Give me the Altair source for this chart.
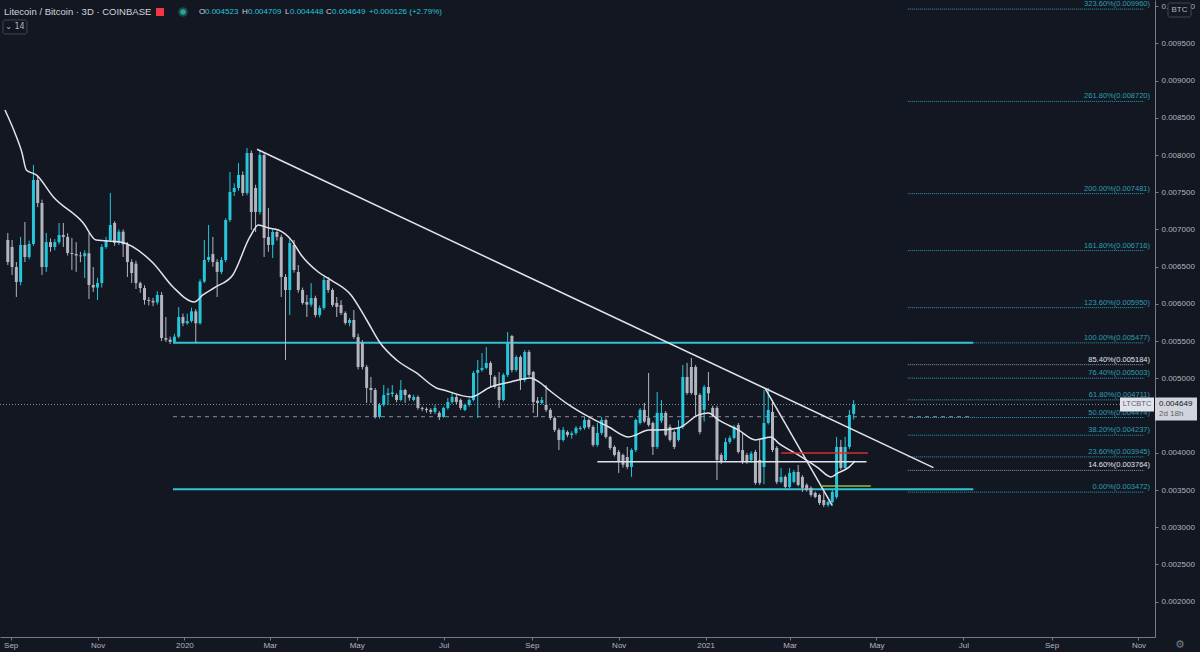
import altair as alt
import numpy as np
import pandas as pd

# ---------------- colours / fonts ----------------
BG = "#131722"
UP = "#26c6da"
DOWN = "#b2b5be"
AXIS = "#787b86"
TXT = "#b2b5be"
WHITE = "#e0e3eb"
CYAN = "#2ec5d6"
FIB = "#2a9fb1"
FONT = "Liberation Sans"

# ---------------- candles (3D bars, price x 1e6 BTC) ----------------
BAR_START = "2019-08-30"
OPEN_E6 = [6858,6765,6496,6294,6792,6630,6805,7664,7355,6496,
           6830,6765,6830,6925,6900,6684,6670,6650,6640,6680,
           6254,6220,6280,6765,6858,7087,6820,6970,6800,6563,
           6540,6280,6213,6053,6040,6020,6120,5542,5520,5490,
           5560,5824,5740,5770,5900,5740,6300,6590,6670,6563,
           6430,6590,7127,7503,7557,7732,7490,8027,7557,7235,
           8000,6899,6792,6966,6899,6362,6187,6792,6429,6187,
           6026,5990,6080,5851,5946,6321,6187,6013,5986,5878,
           5744,5784,5556,5475,5153,4871,4844,4482,4643,4777,
           4790,4777,4710,4844,4777,4710,4750,4603,4590,4576,
           4549,4536,4482,4603,4683,4750,4710,4576,4643,4710,
           5073,5113,5140,5207,5019,4884,4710,5046,5570,5113,
           5287,4978,5354,5086,4700,4670,4643,4576,4468,4307,
           4173,4280,4240,4267,4320,4334,4441,4347,4106,4267,
           4441,4213,4079,4012,3971,3944,3810,4038,4401,4576,
           4470,4401,4079,4430,4536,4347,4280,4173,4347,5019,
           5153,5153,4777,4576,4884,4603,4603,3971,3904,4146,
           4200,4374,4038,3971,3900,4012,3904,3810,4401,4549,
           4066,3609,3676,3542,3609,3743,3676,3569,3529,3461,
           3434,3367,3300,3340,3407,4079,3797,4079,4523]
HIGH_E6 = [6953,6858,6563,6900,7100,6850,7866,7720,7400,6953,
           6880,6870,7087,7087,6950,6885,6830,6700,6720,6953,
           6496,6350,6800,6900,7490,7110,7000,7000,6830,6600,
           6580,6300,6250,6090,6080,6170,6160,5824,5560,5600,
           5958,5870,5870,5950,5930,6330,6858,7060,6900,6600,
           6630,7150,7772,7620,7893,7780,8094,8060,7600,8060,
           8030,7289,7000,6990,6930,6400,6880,6858,6523,6220,
           6120,6281,6110,5980,6362,6362,6210,6093,6050,5900,
           5810,5918,5600,5515,5180,5019,4870,4670,4911,4871,
           4911,4800,4978,4860,4790,4780,4770,4620,4610,4600,
           4640,4560,4620,4737,4817,4780,4730,4660,4730,5100,
           5247,5340,5420,5230,5040,5086,5070,5623,5583,5310,
           5310,5380,5380,5100,4750,4750,4911,4600,4490,4330,
           4347,4300,4290,4360,4360,4482,4460,4370,4401,4482,
           4460,4230,4100,4040,3990,4079,4060,4460,4600,4670,
           5073,4420,4817,4710,4560,4380,4300,4441,5180,5207,
           5274,5180,4800,4910,5086,4630,4630,4000,4200,4230,
           4374,4400,4267,4000,4020,4040,4173,4844,4871,4710,
           4090,3797,3700,3797,3770,3837,3700,3590,3550,3480,
           3450,3475,3360,3500,4213,4173,4213,4576,4709]
LOW_E6 = [6523,6389,6093,6250,6563,6600,6780,7300,6389,6430,
          6700,6720,6800,6765,6650,6456,6430,6560,6348,6066,
          6160,6053,6220,6740,6830,6780,6790,6630,6361,6280,
          6200,6150,5990,5980,5970,5990,5500,5490,5460,5470,
          5540,5700,5720,5750,5475,5720,6280,6560,6500,6093,
          6400,6560,7100,7450,7520,7450,7460,6993,6966,7200,
          6630,6700,6617,6850,6093,5247,5851,6420,6150,5990,
          5824,5960,5820,5820,5920,6150,5960,5824,5850,5720,
          5700,5530,5120,5120,4670,4670,4460,4460,4620,4643,
          4750,4680,4690,4670,4700,4690,4580,4560,4540,4520,
          4520,4441,4470,4580,4660,4650,4576,4560,4620,4690,
          4468,5090,5120,4884,4860,4603,4690,5020,5080,5090,
          4844,4950,5020,4536,4482,4650,4550,4440,4280,4038,
          4150,4210,4190,4240,4300,4310,4320,4080,4080,4240,
          4190,4040,3950,3730,3800,3780,3676,4010,4380,4400,
          4350,3971,4050,4400,4220,4150,4050,4150,4320,4780,
          4780,4482,4250,4420,4700,4480,3635,3850,3880,4120,
          4180,3990,3850,3850,3870,3570,3570,3580,4380,4010,
          3580,3590,3520,3520,3590,3550,3475,3480,3410,3390,
          3300,3270,3273,3320,3380,3770,3770,4050,4448]
CLOSE_E6 = [6563,6496,6294,6792,6630,6805,7664,7355,6496,6830,
            6765,6830,6925,6900,6684,6670,6650,6640,6680,6254,
            6220,6280,6765,6858,7060,6820,6970,6800,6563,6415,
            6280,6213,6053,6040,6020,6120,5542,5520,5490,5560,
            5824,5740,5770,5900,5740,6300,6590,6630,6563,6430,
            6590,7127,7503,7557,7732,7490,8027,7235,7235,8000,
            6886,6792,6966,6900,6362,6187,6819,6456,6187,6013,
            5990,6080,5851,5946,6321,6187,5986,5959,5878,5744,
            5784,5556,5153,5153,4871,4844,4482,4643,4777,4800,
            4810,4710,4844,4777,4740,4750,4603,4590,4576,4549,
            4603,4482,4603,4683,4750,4683,4603,4643,4710,5073,
            5113,5140,5207,5046,4884,4710,5046,5489,5113,5287,
            4978,5354,5046,4683,4670,4710,4576,4468,4307,4173,
            4307,4240,4260,4334,4334,4441,4347,4106,4267,4441,
            4213,4066,3971,3877,3840,3810,4038,4441,4576,4420,
            4374,4079,4536,4536,4240,4173,4079,4347,5019,4804,
            4804,4777,4280,4884,4800,4509,3904,3877,4146,4200,
            4347,4012,3877,3877,3990,3596,3596,4401,4576,4038,
            3609,3676,3542,3730,3743,3569,3529,3501,3434,3407,
            3327,3300,3340,3475,4079,3797,4079,4509,4649]

# ---------------- moving average ----------------
MA_DATES = ["2019-08-28","2019-09-04","2019-09-09","2019-09-12","2019-09-19","2019-10-01",
            "2019-10-22","2019-10-31","2019-11-17","2019-12-10","2019-12-24","2020-01-08",
            "2020-01-14","2020-01-23","2020-02-04","2020-02-16","2020-02-22","2020-02-29",
            "2020-03-07","2020-03-16","2020-03-23","2020-04-04","2020-04-13","2020-04-27",
            "2020-05-08","2020-05-17","2020-05-29","2020-06-12","2020-06-26","2020-07-01",
            "2020-07-20","2020-08-03","2020-08-17","2020-08-31","2020-09-06","2020-09-13",
            "2020-09-27","2020-10-11","2020-10-25","2020-11-08","2020-11-13","2020-11-22",
            "2020-11-29","2020-12-13","2020-12-27","2021-01-03","2021-01-10","2021-01-24",
            "2021-02-05","2021-02-12","2021-02-16","2021-02-21","2021-03-07","2021-03-21",
            "2021-03-30","2021-04-04","2021-04-11","2021-04-16"]
MA_E6 = [8605,8296,8027,7799,7732,7436,7087,6858,6832,6550,6228,6026,6120,6228,6389,6899,
         7060,7020,6993,6860,6657,6429,6321,6120,5784,5489,5247,5073,4871,4844,4750,4884,
         4952,5005,4952,4844,4643,4482,4347,4213,4240,4307,4307,4334,4509,4536,4441,4307,
         4173,4200,4213,4133,3971,3797,3676,3730,3797,3891]

# ---------------- fibonacci extension ----------------
FIB_LABELS = ["323.60%(0.009960)", "261.80%(0.008720)", "200.00%(0.007481)",
              "161.80%(0.006716)", "123.60%(0.005950)", "100.00%(0.005477)",
              "85.40%(0.005184)", "76.40%(0.005003)", "61.80%(0.004711)",
              "50.00%(0.004474)", "38.20%(0.004237)", "23.60%(0.003945)",
              "14.60%(0.003764)", "0.00%(0.003472)"]
FIB_PRICES = [0.009960, 0.008720, 0.007481, 0.006716, 0.005950, 0.005477, 0.005184,
              0.005003, 0.004711, 0.004474, 0.004237, 0.003945, 0.003764, 0.003472]
FIB_HIGHLIGHT = ["85.40%(0.005184)", "14.60%(0.003764)"]
FIB_START, FIB_END = "2021-05-23", "2021-11-05"

# ---------------- drawings ----------------
RANGE_START, RANGE_END = "2019-12-24", "2021-07-08"
RANGE_PRICES = [0.005477, 0.003510]
MID_DASHED = 0.004485
LAST_PRICE = 0.004649
TREND_X1 = ["2020-02-21", "2021-02-12"]
TREND_Y1 = [0.008077, 0.004858]
TREND_X2 = ["2021-06-10", "2021-03-31"]
TREND_Y2 = [0.003801, 0.003290]
LEVEL_X1 = ["2020-10-17", "2021-02-23", "2021-03-23"]
LEVEL_X2 = ["2021-04-24", "2021-04-25", "2021-04-27"]
LEVEL_Y = [0.003881, 0.003998, 0.003555]
LEVEL_COLORS = [WHITE, "#d32f2f", "#8bc34a"]

Y_TICKS = [0.0020, 0.0025, 0.0030, 0.0035, 0.0040, 0.0050, 0.0055, 0.0060,
           0.0065, 0.0070, 0.0075, 0.0080, 0.0085, 0.0090, 0.0095, 0.0100]
X_TICKS = ["2019-09-01", "2019-11-01", "2020-01-01", "2020-03-01", "2020-05-01",
           "2020-07-01", "2020-09-01", "2020-11-01", "2021-01-01", "2021-03-01",
           "2021-05-01", "2021-07-01", "2021-09-01", "2021-11-01"]

HEADER_TITLE = "Litecoin / Bitcoin · 3D · COINBASE"
HEADER_PARTS = ["O", "0.004523", "H", "0.004709", "L", "0.004448", "C", "0.004649",
                "+0.000126 (+2.79%)"]

# ---------------- geometry of the view ----------------
W, H = 1155, 637
Y_TOP = 0.010082
Y_BOTTOM = 0.001526


def dt(s, hours=0, minutes=0):
    y, m, d = (int(v) for v in s.split("-"))
    return alt.DateTime(year=y, month=m, date=d, hours=hours, minutes=minutes, utc=True)


xscale = alt.Scale(type="utc", domain=[dt("2019-08-28", 0, 46), dt("2021-11-09", 1, 55)])
yscale = alt.Scale(domain=[Y_BOTTOM, Y_TOP], nice=False, zero=False)

xaxis = alt.Axis(values=[dt(s) for s in X_TICKS], grid=False, title=None,
                 labelExpr="utcmonth(datum.value) === 0 ? utcFormat(datum.value, '%Y') : utcFormat(datum.value, '%b')",
                 domainColor=AXIS, tickColor=AXIS, tickSize=3, labelColor=TXT,
                 labelFontSize=8, labelFont=FONT, labelPadding=1, labelFlush=False,
                 labelOverlap=False)
yaxis = alt.Axis(orient="right", values=Y_TICKS, format=".6f", grid=False, title=None,
                 domainColor=AXIS, tickColor=AXIS, tickSize=3, labelColor=TXT,
                 labelFontSize=8, labelFont=FONT, labelPadding=3, labelFlush=False,
                 labelOverlap=False, labelBound=False)


def X(field):
    return alt.X(f"{field}:T", scale=xscale, axis=xaxis)


def Y(field):
    return alt.Y(f"{field}:Q", scale=yscale, axis=yaxis)


one = pd.DataFrame({"a": [0]})

# candles
dates = pd.date_range(BAR_START, periods=len(CLOSE_E6), freq="3D").strftime("%Y-%m-%d")
cdf = pd.DataFrame({
    "date": dates,
    "open": np.array(OPEN_E6) / 1e6,
    "high": np.array(HIGH_E6) / 1e6,
    "low": np.array(LOW_E6) / 1e6,
    "close": np.array(CLOSE_E6) / 1e6,
})
cdf["dir"] = np.where(cdf["close"] >= cdf["open"], "up", "down")
dircolor = alt.Color("dir:N", scale=alt.Scale(domain=["up", "down"], range=[UP, DOWN]), legend=None)

wicks = alt.Chart(cdf).mark_rule(strokeWidth=1).encode(x=X("date"), y=Y("low"), y2="high", color=dircolor)
bodies = alt.Chart(cdf).mark_bar(size=3).encode(x=X("date"), y=Y("open"), y2="close", color=dircolor)

# moving average
madf = pd.DataFrame({"date": MA_DATES, "ma": np.array(MA_E6) / 1e6})
ma = alt.Chart(madf).mark_line(color=WHITE, strokeWidth=1.5, interpolate="monotone", clip=True).encode(
    x=X("date"), y=Y("ma"))

# fib
fdf = pd.DataFrame({"label": FIB_LABELS, "price": FIB_PRICES, "start": FIB_START, "end": FIB_END})
fdf["lc"] = [("#9598a1" if l in FIB_HIGHLIGHT else FIB) for l in FIB_LABELS]
fdf["tc"] = [(WHITE if l in FIB_HIGHLIGHT else FIB) for l in FIB_LABELS]
fib_lines = alt.Chart(fdf).mark_rule(strokeWidth=1, strokeDash=[1, 1]).encode(
    x=X("start"), x2="end", y=Y("price"), color=alt.Color("lc:N", scale=None))
fib_text = alt.Chart(fdf).mark_text(align="right", baseline="bottom", dy=-1, fontSize=7.5, font=FONT).encode(
    x=alt.value(1150), y=Y("price"), text="label:N", color=alt.Color("tc:N", scale=None))

# range lines
rdf = pd.DataFrame({"start": RANGE_START, "end": RANGE_END, "price": RANGE_PRICES})
range_lines = alt.Chart(rdf).mark_rule(strokeWidth=2, color=CYAN).encode(x=X("start"), x2="end", y=Y("price"))
ddf = pd.DataFrame({"start": [RANGE_START], "end": [RANGE_END], "price": [MID_DASHED]})
dashed = alt.Chart(ddf).mark_rule(strokeWidth=1, strokeDash=[4, 4], color="#8a8d96").encode(
    x=X("start"), x2="end", y=Y("price"))

pdf = pd.DataFrame({"price": [LAST_PRICE]})
price_line = alt.Chart(pdf).mark_rule(strokeWidth=1, strokeDash=[1, 2], color="#8a8d96").encode(
    x=alt.value(0), x2=alt.value(W), y=Y("price"))

tdf = pd.DataFrame({"x1": TREND_X1, "x2": TREND_X2, "y1": TREND_Y1, "y2": TREND_Y2})
trends = alt.Chart(tdf).mark_rule(strokeWidth=1.5, color=WHITE).encode(
    x=X("x1"), x2="x2", y=Y("y1"), y2="y2")

ldf = pd.DataFrame({"x1": LEVEL_X1, "x2": LEVEL_X2, "price": LEVEL_Y, "c": LEVEL_COLORS})
levels = alt.Chart(ldf).mark_rule(strokeWidth=1.5).encode(
    x=X("x1"), x2="x2", y=Y("price"), color=alt.Color("c:N", scale=None))

# price label boxes
py = (Y_TOP - LAST_PRICE) / (Y_TOP - Y_BOTTOM) * H
sym_box = alt.Chart(one).mark_rect(color="#e0e3eb").encode(
    x=alt.value(1120), x2=alt.value(1154), y=alt.value(py - 7), y2=alt.value(py + 7))
sym_text = alt.Chart(one).mark_text(text="LTCBTC", fontSize=7.5, font=FONT, color="#5d606b").encode(
    x=alt.value(1137), y=alt.value(py))
ax_box = alt.Chart(one).mark_rect(color="#d1d4dc").encode(
    x=alt.value(1155), x2=alt.value(1197), y=alt.value(py - 7), y2=alt.value(py + 16))
ax_t1 = alt.Chart(one).mark_text(text="0.004649", fontSize=8, font=FONT, color="#131722", align="left").encode(
    x=alt.value(1159), y=alt.value(py))
ax_t2 = alt.Chart(one).mark_text(text="2d 18h", fontSize=8, font=FONT, color="#5d606b", align="left").encode(
    x=alt.value(1159), y=alt.value(py + 10))

# header
title = alt.Chart(one).mark_text(text=HEADER_TITLE, fontSize=9.5, font=FONT, color="#d1d4dc",
                                 align="left", baseline="middle").encode(x=alt.value(4), y=alt.value(12))
flag = alt.Chart(one).mark_rect(color="#f23645").encode(
    x=alt.value(156), x2=alt.value(164), y=alt.value(8), y2=alt.value(16))
dot_ring = alt.Chart(one).mark_point(filled=True, size=95, color="#1b4a44", opacity=1).encode(
    x=alt.value(183), y=alt.value(12))
dot = alt.Chart(one).mark_point(filled=True, size=30, color="#26a69a", opacity=1).encode(
    x=alt.value(183), y=alt.value(12))
hdf = pd.DataFrame({
    "t": HEADER_PARTS,
    "x": [199, 205, 242, 248, 285, 290, 326, 332, 369],
    "c": ["#d1d4dc", UP, "#d1d4dc", UP, "#d1d4dc", UP, "#d1d4dc", UP, UP],
})
ohlc = alt.Chart(hdf).mark_text(fontSize=8, font=FONT, align="left", baseline="middle").encode(
    x=alt.X("x:Q", scale=None), y=alt.value(12), text="t:N", color=alt.Color("c:N", scale=None))
ind_box = alt.Chart(one).mark_rect(fill=BG, stroke="#434651", strokeWidth=1, cornerRadius=2).encode(
    x=alt.value(3), x2=alt.value(27), y=alt.value(20), y2=alt.value(34))
ind_text = alt.Chart(one).mark_text(text="⌄ 14", fontSize=8, font="DejaVu Sans", color="#b2b5be").encode(
    x=alt.value(15), y=alt.value(27))
btc_box = alt.Chart(one).mark_rect(fill=BG, stroke="#434651", strokeWidth=1, cornerRadius=2).encode(
    x=alt.value(1168), x2=alt.value(1191), y=alt.value(3), y2=alt.value(17))
btc_text = alt.Chart(one).mark_text(text="BTC", fontSize=8, font=FONT, color="#b2b5be").encode(
    x=alt.value(1179.5), y=alt.value(10))
gear = alt.Chart(one).mark_text(text="⚙", fontSize=11, font="DejaVu Sans", color="#787b86").encode(
    x=alt.value(1180), y=alt.value(645))

chart = alt.layer(
    fib_lines, range_lines, dashed, price_line, wicks, bodies, ma, trends, levels,
    fib_text, sym_box, sym_text, ax_box, ax_t1, ax_t2,
    title, flag, dot_ring, dot, ohlc, ind_box, ind_text, btc_box, btc_text, gear,
).properties(
    width=W, height=H, background=BG,
    padding={"left": 0, "top": 0, "right": 45, "bottom": 15},
    autosize=alt.AutoSizeParams(type="none"),
).configure_view(stroke=None, fill=BG)

chart.save("out.html", embed_options={"renderer": "svg", "actions": False})
